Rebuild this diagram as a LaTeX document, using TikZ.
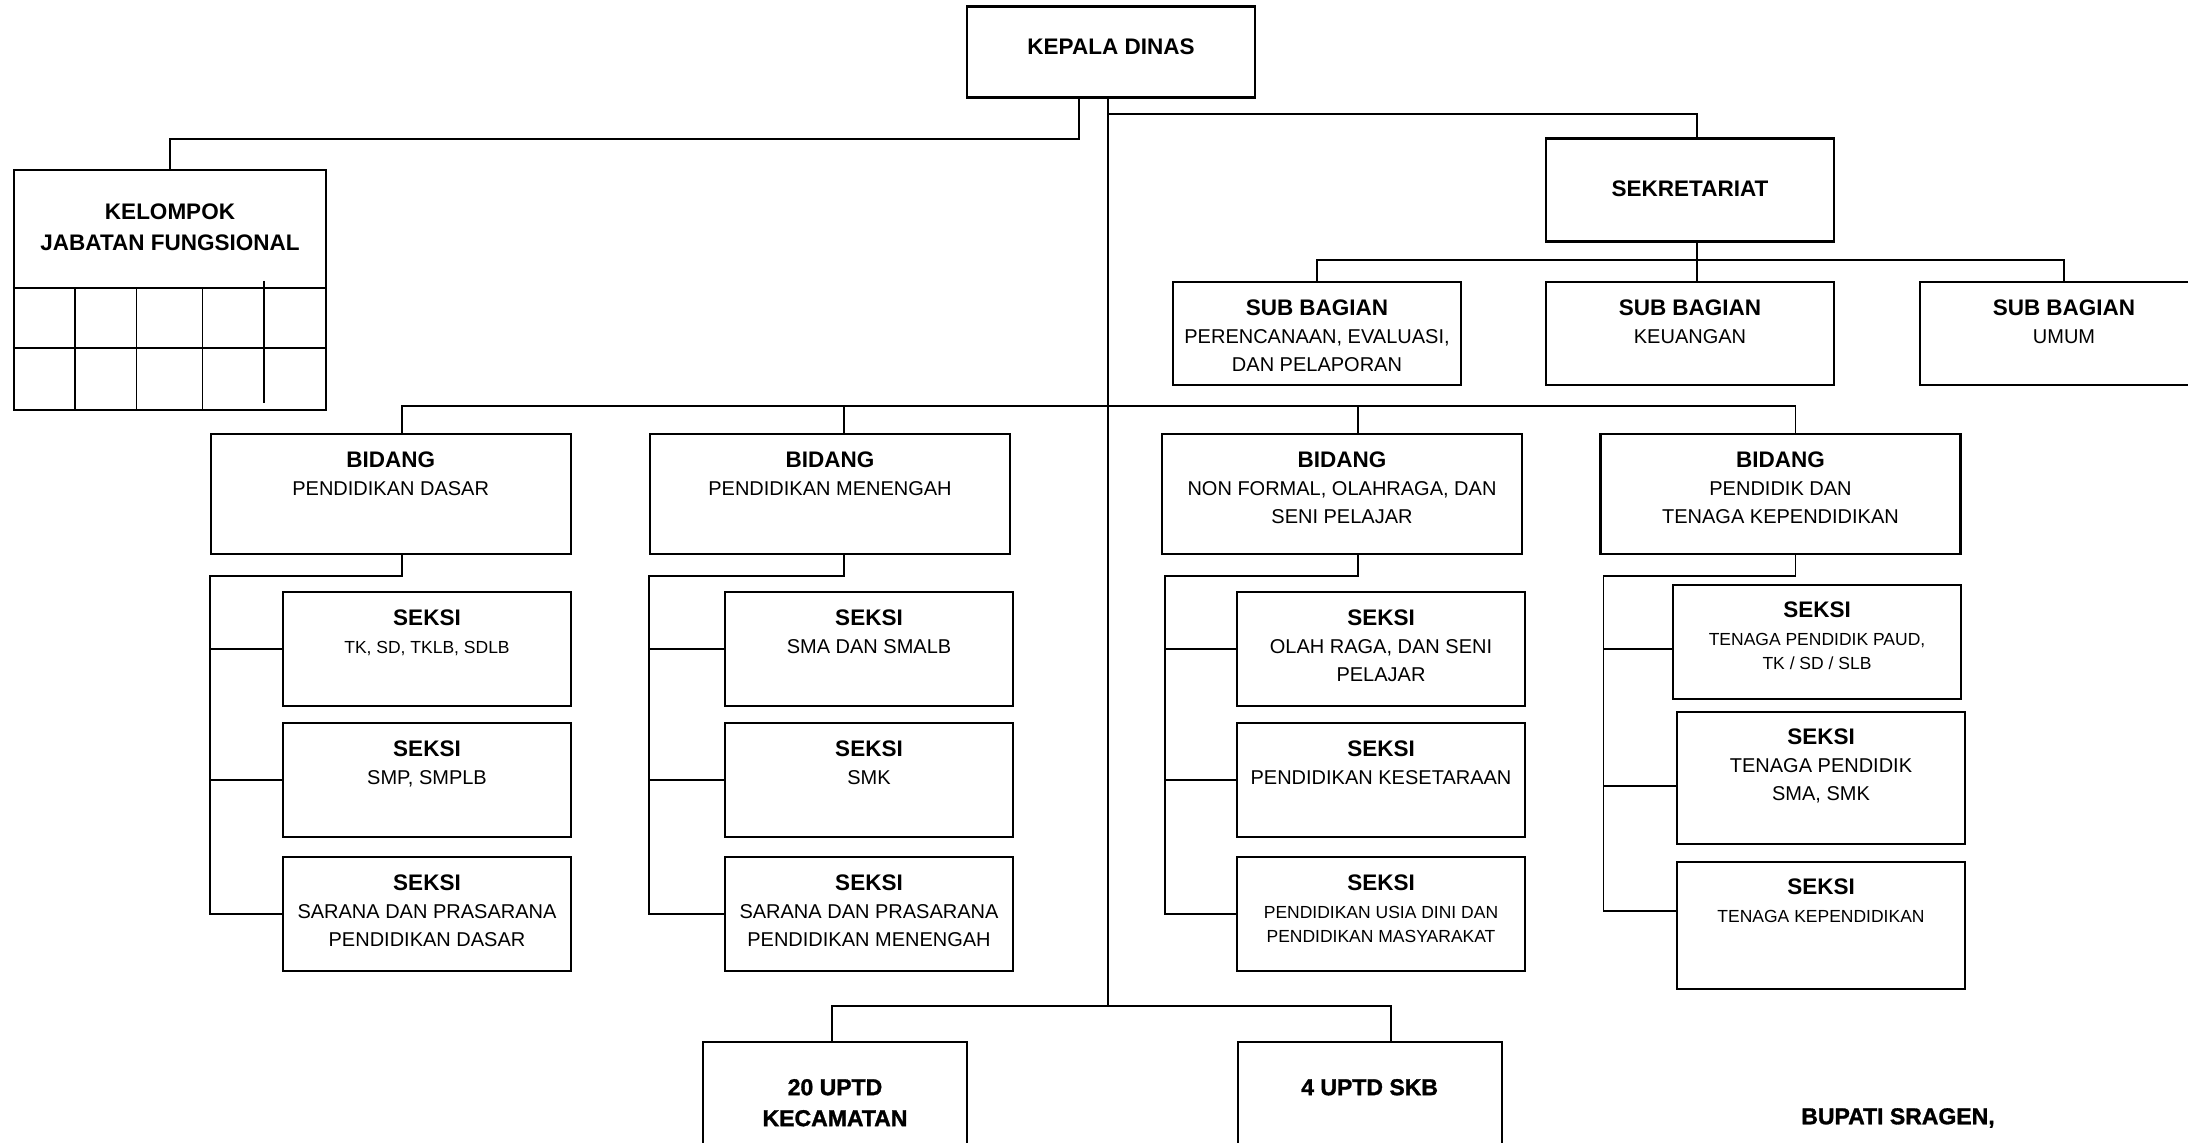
\documentclass[tikz,border=0pt]{standalone}
\usepackage{fontspec}
\setmainfont{Liberation Sans}
\newfontfamily\heavy{Liberation Sans}[UprightFont={* Bold},FakeBold=1.3]
\newcommand{\hd}[1]{{\fontsize{22.5}{28}\selectfont\bfseries #1}}
\newcommand{\sm}{\fontsize{17.5}{24}\selectfont}

\begin{document}
\begin{tikzpicture}[
        x=1pt, y=-1pt,
        box/.style args={#1/#2}{rectangle, draw, line width=2.2pt, minimum width=#1pt, minimum height=#2pt, inner sep=0pt},
        lbl/.style={anchor=north, yshift=-19pt, align=center, inner sep=0pt, font=\fontsize{20}{28}\selectfont},
        link/.style={line width=1.8pt},
        kgrid/.style={line width=1.6pt}
    ]
    \useasboundingbox (0,0) rectangle (2188,1143);
    \fill[white] (0,0) rectangle (2188,1143);

    % top
    \node[box=288/91, label={[lbl, yshift=-14pt]north:\hd{KEPALA DINAS}}] (kd) at (1111,52) {};
    \node[box=312/240, label={[lbl, yshift=-15.5pt, font=\fontsize{22.5}{31}\selectfont\bfseries]north:{KELOMPOK\\JABATAN FUNGSIONAL}}] (kjf) at (170,290) {};
    \node[box=288/103, label={[lbl, yshift=-24.5pt]north:\hd{SEKRETARIAT}}] (sek) at (1690,190) {};

    \draw[kgrid] ([yshift=-119pt]kjf.north west) -- ([yshift=-119pt]kjf.north east);
    \draw[kgrid] ([yshift=-179pt]kjf.north west) -- ([yshift=-179pt]kjf.north east);
    \draw[kgrid] ([xshift=62pt, yshift=-119pt]kjf.north west) -- ([xshift=62pt]kjf.south west);
    \draw[kgrid] ([xshift=123.5pt, yshift=-119pt]kjf.north west) -- ([xshift=123.5pt]kjf.south west);
    \draw[kgrid] ([xshift=189.4pt, yshift=-119pt]kjf.north west) -- ([xshift=189.4pt]kjf.south west);
    \draw[kgrid] ([xshift=251pt, yshift=-112pt]kjf.north west) -- ([xshift=251pt, yshift=8pt]kjf.south west);

    % sub bagian
    \node[box=288/103, label={[lbl]north:{\hd{SUB BAGIAN}\\PERENCANAAN, EVALUASI,\\DAN PELAPORAN}}] (sb1) at (1317,333.5) {};
    \node[box=288/103, label={[lbl]north:{\hd{SUB BAGIAN}\\KEUANGAN}}] (sb2) at (1690,333.5) {};
    \node[box=288/103, label={[lbl]north:{\hd{SUB BAGIAN}\\UMUM}}] (sb3) at (2064,333.5) {};

    % bidang
    \node[box=360/120, label={[lbl]north:{\hd{BIDANG}\\PENDIDIKAN DASAR}}] (bd1) at (390.7,494) {};
    \node[box=360/120, label={[lbl]north:{\hd{BIDANG}\\PENDIDIKAN MENENGAH}}] (bd2) at (830,494) {};
    \node[box=360/120, label={[lbl]north:{\hd{BIDANG}\\NON FORMAL, OLAHRAGA, DAN\\SENI PELAJAR}}] (bd3) at (1342,494) {};
    \node[box=360/120, label={[lbl]north:{\hd{BIDANG}\\PENDIDIK DAN\\TENAGA KEPENDIDIKAN}}] (bd4) at (1780.5,494) {};

    % seksi
    \node[box=288/114, label={[lbl]north:{\hd{SEKSI}\\\sm TK, SD, TKLB, SDLB}}] (s11) at (427,649) {};
    \node[box=288/114, label={[lbl]north:{\hd{SEKSI}\\SMP, SMPLB}}] (s12) at (427,780) {};
    \node[box=288/114, label={[lbl]north:{\hd{SEKSI}\\SARANA DAN PRASARANA\\PENDIDIKAN DASAR}}] (s13) at (427,914) {};
    \node[box=288/114, label={[lbl]north:{\hd{SEKSI}\\SMA DAN SMALB}}] (s21) at (869,649) {};
    \node[box=288/114, label={[lbl]north:{\hd{SEKSI}\\SMK}}] (s22) at (869,780) {};
    \node[box=288/114, label={[lbl]north:{\hd{SEKSI}\\SARANA DAN PRASARANA\\PENDIDIKAN MENENGAH}}] (s23) at (869,914) {};
    \node[box=288/114, label={[lbl]north:{\hd{SEKSI}\\OLAH RAGA, DAN SENI\\PELAJAR}}] (s31) at (1381,649) {};
    \node[box=288/114, label={[lbl]north:{\hd{SEKSI}\\PENDIDIKAN KESETARAAN}}] (s32) at (1381,780) {};
    \node[box=288/114, label={[lbl]north:{\hd{SEKSI}\\\sm PENDIDIKAN USIA DINI DAN\\[-4pt]\sm PENDIDIKAN MASYARAKAT}}] (s33) at (1381,914) {};
    \node[box=288/114, label={[lbl, yshift=1.5pt]north:{\hd{SEKSI}\\\sm TENAGA PENDIDIK PAUD,\\[-4pt]\sm TK / SD / SLB}}] (s41) at (1817,642) {};
    \node[box=288/132, label={[lbl, yshift=1.5pt]north:{\hd{SEKSI}\\TENAGA PENDIDIK\\SMA, SMK}}] (s42) at (1821,778) {};
    \node[box=288/127, label={[lbl, yshift=1.5pt]north:{\hd{SEKSI}\\\sm TENAGA KEPENDIDIKAN}}] (s43) at (1821,925.5) {};

    % uptd
    \node[box=264/160, label={[lbl, yshift=-19pt, font=\heavy\fontsize{23}{31}\selectfont]north:{20 UPTD\\KECAMATAN}}] (u1) at (835,1122) {};
    \node[box=264/160, label={[lbl, yshift=-19pt, font=\heavy\fontsize{23}{31}\selectfont]north:{4 UPTD SKB}}] (u2) at (1369.6,1122) {};
    \node[font=\heavy\fontsize{23}{28}\selectfont] (bup) at (1898,1118) {BUPATI SRAGEN,};

    % lines
    \draw[link] ([xshift=-32pt]kd.south) -- ++(0,40) -| (kjf.north);
    \draw[link] ([xshift=-3pt]kd.south) -- ++(0,907) coordinate (tr);
    \draw[link] ([xshift=-3pt, yshift=-15pt]kd.south) -| ([xshift=7pt]sek.north);
    \draw[link] ([xshift=7pt]sek.south) -- ([xshift=7pt]sb2.north);
    \draw[link] (sb1.north) |- ([yshift=-17pt]sek.south) -| (sb3.north);

    \draw[link] ([xshift=11pt]bd1.north) -- ++(0,-27) -| ([xshift=15pt]bd4.north);
    \draw[link] ([xshift=14pt]bd2.north) -- ++(0,-27);
    \draw[link] ([xshift=16pt]bd3.north) -- ++(0,-27);

    \draw[link] ([xshift=11pt]bd1.south) -- ++(0,21) -| (bd1.west |- s13.west) -- (s13.west);
    \draw[link] (bd1.west |- s11.west) -- (s11.west);
    \draw[link] (bd1.west |- s12.west) -- (s12.west);
    \draw[link] ([xshift=14pt]bd2.south) -- ++(0,21) -| (bd2.west |- s23.west) -- (s23.west);
    \draw[link] (bd2.west |- s21.west) -- (s21.west);
    \draw[link] (bd2.west |- s22.west) -- (s22.west);
    \draw[link] ([xshift=16pt]bd3.south) -- ++(0,21) -| ([xshift=4pt]bd3.west |- s33.west) -- (s33.west);
    \draw[link] ([xshift=4pt]bd3.west |- s31.west) -- (s31.west);
    \draw[link] ([xshift=4pt]bd3.west |- s32.west) -- (s32.west);

    \coordinate (j41) at ([yshift=-7pt]s41.west);
    \coordinate (j42) at ([yshift=-7.6pt]s42.west);
    \coordinate (j43) at ([yshift=14.5pt]s43.west);
    \draw[link] ([xshift=15pt]bd4.south) -- ++(0,21) -| ([xshift=4pt]bd4.west |- j43) -- (j43);
    \draw[link] ([xshift=4pt]bd4.west |- j41) -- (j41);
    \draw[link] ([xshift=4pt]bd4.west |- j42) -- (j42);

    \draw[link] ([xshift=-3pt]u1.north) |- (tr) -| ([xshift=21pt]u2.north);

\end{tikzpicture}
\end{document}
